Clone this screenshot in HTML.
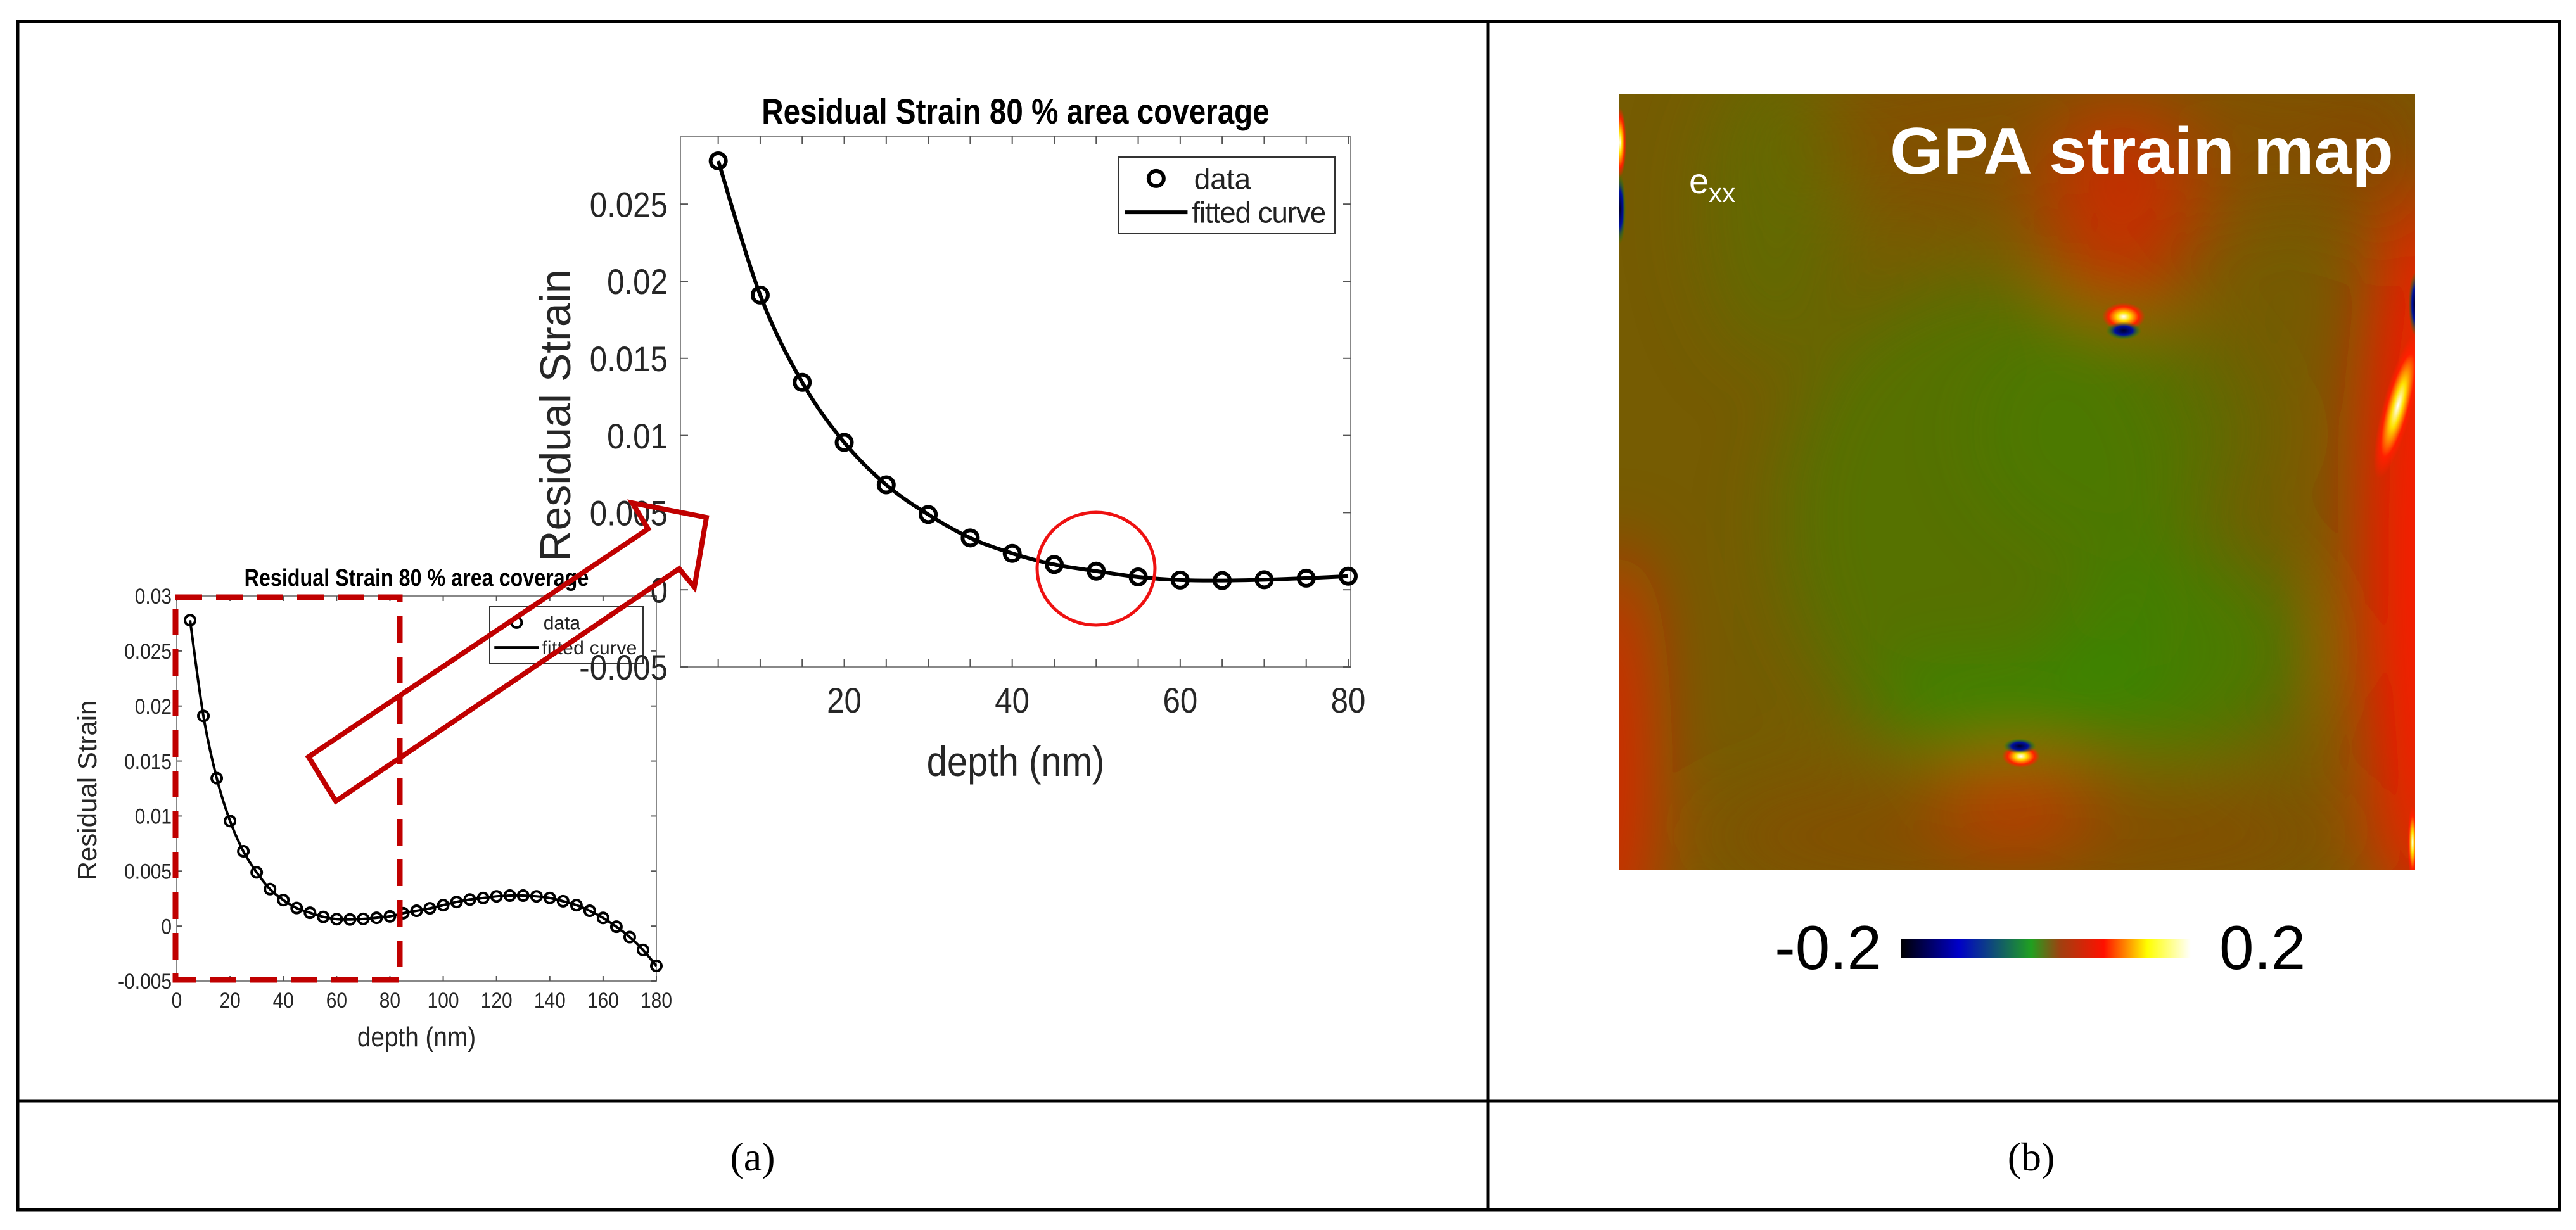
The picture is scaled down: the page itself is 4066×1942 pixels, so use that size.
<!DOCTYPE html>
<html><head><meta charset="utf-8"><style>
html,body{margin:0;padding:0;background:#fff;}
#root{position:relative;width:4066px;height:1942px;overflow:hidden;}
svg text{font-family:"Liberation Sans",sans-serif;}
</style></head><body>
<div id="root">
<svg id="svg" width="4066" height="1942" viewBox="0 0 4066 1942" xmlns="http://www.w3.org/2000/svg">
<defs>
  <filter id="blur" filterUnits="userSpaceOnUse" x="2300" y="-100" width="1800" height="1700"><feGaussianBlur stdDeviation="60"/></filter>
  <radialGradient id="hot" cx="0.5" cy="0.5" r="0.5"><stop offset="0" stop-color="#ffffff"/><stop offset="0.3" stop-color="#ffe000"/><stop offset="0.7" stop-color="#ff2000"/><stop offset="1" stop-color="#ff2000" stop-opacity="0"/></radialGradient>
  <radialGradient id="cold" cx="0.5" cy="0.5" r="0.5"><stop offset="0" stop-color="#000030"/><stop offset="0.5" stop-color="#0010a0"/><stop offset="1" stop-color="#00a000" stop-opacity="0"/></radialGradient>
  <linearGradient id="cbar" x1="0" x2="1"><stop offset="0" stop-color="#000000"/><stop offset="0.2" stop-color="#0000c8"/><stop offset="0.45" stop-color="#20a020"/><stop offset="0.55" stop-color="#a04010"/><stop offset="0.7" stop-color="#ff1000"/><stop offset="0.85" stop-color="#ffff00"/><stop offset="1" stop-color="#ffffff"/></linearGradient>
  <clipPath id="mapclip"><rect x="2556" y="149" width="1256" height="1225"/></clipPath>
</defs>

<g stroke="#000" stroke-width="5" fill="none">
  <rect x="28" y="34" width="4012" height="1876"/>
  <line x1="2349" y1="34" x2="2349" y2="1910"/>
  <line x1="28" y1="1738" x2="4040" y2="1738"/>
</g>
<text x="1188" y="1848" font-size="64" text-anchor="middle" style="font-family:'Liberation Serif',serif">(a)</text>
<text x="3206" y="1848" font-size="64" text-anchor="middle" style="font-family:'Liberation Serif',serif">(b)</text>

<g id="small"></g>
<g id="big"></g>

<rect x="277" y="943" width="354" height="604" fill="none" stroke="#c00000" stroke-width="9" stroke-dasharray="42,22"/>
<polygon points="487,1195 1023,835 998,794 1115,817 1096,927 1072,898 530,1265" fill="none" stroke="#c00000" stroke-width="8" stroke-linejoin="miter"/>
<ellipse cx="1730" cy="898" rx="93" ry="89" fill="none" stroke="#ee1111" stroke-width="5"/>

<g clip-path="url(#mapclip)">
  <rect x="2556" y="149" width="1256" height="1225" fill="#765c02"/>
  <g filter="url(#blur)">
    <ellipse cx="3300" cy="220" rx="500" ry="140" fill="#8a4a00" opacity="0.6"/>
    <ellipse cx="3350" cy="330" rx="120" ry="160" fill="#d02a00" opacity="0.85"/>
    <ellipse cx="3200" cy="1320" rx="520" ry="110" fill="#8a4a00" opacity="0.6"/>
    <ellipse cx="3180" cy="1270" rx="120" ry="70" fill="#d03000" opacity="0.75"/>
    <ellipse cx="3130" cy="820" rx="320" ry="380" fill="#418000" opacity="0.6"/>
    <ellipse cx="3330" cy="680" rx="220" ry="190" fill="#418000" opacity="0.5"/>
    <ellipse cx="3440" cy="1030" rx="190" ry="170" fill="#378800" opacity="0.7"/>
    <ellipse cx="3180" cy="1110" rx="250" ry="65" fill="#2e9000" opacity="0.7"/>
    <ellipse cx="2800" cy="330" rx="110" ry="240" fill="#4a7d00" opacity="0.45"/>
    <ellipse cx="3830" cy="880" rx="100" ry="600" fill="#ff1400" opacity="1"/>
    <ellipse cx="3760" cy="250" rx="80" ry="140" fill="#8a4000" opacity="0.6"/>
    <ellipse cx="2545" cy="1220" rx="55" ry="360" fill="#ff1400" opacity="0.9"/>
  </g>
  <ellipse cx="3352" cy="500" rx="34" ry="22" fill="url(#hot)"/>
  <ellipse cx="3352" cy="522" rx="28" ry="14" fill="url(#cold)"/>
  <ellipse cx="3190" cy="1194" rx="30" ry="18" fill="url(#hot)"/>
  <ellipse cx="3188" cy="1178" rx="26" ry="12" fill="url(#cold)"/>
  <ellipse cx="3785" cy="640" rx="24" ry="120" fill="url(#hot)" transform="rotate(15 3785 640)"/>
  <ellipse cx="3812" cy="480" rx="10" ry="50" fill="url(#cold)"/>
  <ellipse cx="2557" cy="330" rx="9" ry="55" fill="url(#cold)"/>
  <ellipse cx="2557" cy="225" rx="10" ry="55" fill="url(#hot)"/>
  <ellipse cx="3808" cy="1330" rx="8" ry="60" fill="url(#hot)"/>
</g>
<text x="2983" y="274" font-size="104" font-weight="bold" fill="#fff" textLength="795" lengthAdjust="spacingAndGlyphs">GPA strain map</text>
<text x="2666" y="305" font-size="56" fill="#fff">e<tspan font-size="42" dy="14">xx</tspan></text>
<rect x="3000" y="1483" width="458" height="29" fill="url(#cbar)"/>
<text x="2970" y="1530" font-size="98" text-anchor="end">-0.2</text>
<text x="3503" y="1530" font-size="98">0.2</text>
</svg>
</div>
<script>
const bigDepth = [5,10,15,20,25,30,35,40,45,50,55,60,65,70,75,80];
const bigStrain = [0.0278,0.0191,0.01344,0.00955,0.0068,0.00488,0.00336,0.00236,0.00164,0.00121,0.00083,0.00063,0.0006,0.00065,0.00075,0.00088];
const smallDepth = [5,10,15,20,25,30,35,40,45,50,55,60,65,70,75,80,85,90,95,100,105,110,115,120,125,130,135,140,145,150,155,160,165,170,175,180];
const smallStrain = [0.0278,0.0191,0.01344,0.00955,0.0068,0.00488,0.00336,0.00236,0.00164,0.00121,0.00083,0.00063,0.0006,0.00065,0.00075,0.00088,0.00117,0.00139,0.00161,0.0019,0.00219,0.00241,0.00255,0.0027,0.00277,0.00277,0.0027,0.00255,0.00226,0.0019,0.00139,0.00074,-0.00006,-0.001,-0.00217,-0.00362];
const bigYTicks = [-0.005,0,0.005,0.01,0.015,0.02,0.025];
const bigYTickLabels = ["-0.005","0","0.005","0.01","0.015","0.02","0.025"];
const bigXTicks = [20,40,60,80];
const smallYTicks = [-0.005,0,0.005,0.01,0.015,0.02,0.025,0.03];
const smallYTickLabels = ["-0.005","0","0.005","0.01","0.015","0.02","0.025","0.03"];
const smallXTicks = [0,20,40,60,80,100,120,140,160,180];

const NS = "http://www.w3.org/2000/svg";
function mk(parent, tag, attrs, txt){
  const e = document.createElementNS(NS, tag);
  for (const k in attrs) e.setAttribute(k, attrs[k]);
  if (txt !== undefined) e.textContent = txt;
  parent.appendChild(e); return e;
}
function smoothPath(pts){
  let d = "M" + pts[0][0] + "," + pts[0][1];
  for (let i=0;i<pts.length-1;i++){
    const p0=pts[Math.max(i-1,0)], p1=pts[i], p2=pts[i+1], p3=pts[Math.min(i+2,pts.length-1)];
    const c1=[p1[0]+(p2[0]-p0[0])/6, p1[1]+(p2[1]-p0[1])/6];
    const c2=[p2[0]-(p3[0]-p1[0])/6, p2[1]-(p3[1]-p1[1])/6];
    d += " C"+c1[0]+","+c1[1]+" "+c2[0]+","+c2[1]+" "+p2[0]+","+p2[1];
  }
  return d;
}
function drawChart(g, o){
  const sx = v => o.L + (v - o.xmin)/(o.xmax - o.xmin)*(o.R - o.L);
  const sy = v => o.B - (v - o.ymin)/(o.ymax - o.ymin)*(o.B - o.T);
  let el;
  el = mk(g,"rect",{x:o.L,y:o.T,width:o.R-o.L,height:o.B-o.T,fill:"#fff",stroke:"#888","stroke-width":o.axw});
  
  
  o.yticks.forEach((t,i)=>{
    const y = sy(t);
    mk(g,"line",{x1:o.L,x2:o.L+o.tl,y1:y,y2:y,stroke:"#555","stroke-width":2});
    mk(g,"line",{x1:o.R,x2:o.R-o.tl,y1:y,y2:y,stroke:"#555","stroke-width":2});
    el = mk(g,"text",{x:o.L-o.lpad,y:y+o.tfs*0.36,"font-size":o.tfs,"text-anchor":"end",fill:"#262626",transform:"translate("+(o.L-o.lpad)+",0) scale(0.88,1) translate("+(-(o.L-o.lpad))+",0)"},o.ylabels[i]);
    
    
  });
  for (let v=o.minorStart; v<=o.xmax; v+=o.minorStep){
    const x = sx(v);
    mk(g,"line",{x1:x,x2:x,y1:o.B,y2:o.B-o.tl,stroke:"#555","stroke-width":2});
    mk(g,"line",{x1:x,x2:x,y1:o.T,y2:o.T+o.tl,stroke:"#555","stroke-width":2});
  }
  o.xticks.forEach(t=>{
    const x = sx(t);
    el = mk(g,"text",{x:x,y:o.B+o.xlpad,"font-size":o.tfs,"text-anchor":"middle",fill:"#262626",transform:"translate("+x+",0) scale(0.88,1) translate("+(-x)+",0)"},String(t));
    
    
  });
  const pts = o.xs.map((v,i)=>[sx(v), sy(o.ys[i])]);
  el = mk(g,"path",{d:smoothPath(pts),fill:"none",stroke:"#000","stroke-width":o.lw});
  
  
  pts.forEach(p=>{
    el = mk(g,"circle",{cx:p[0],cy:p[1],r:o.mr,fill:"none",stroke:"#000","stroke-width":o.mw});
    
    
  });
  el = mk(g,"text",{x:(o.L+o.R)/2,y:o.T-o.titlePad,"font-size":o.titleFs,"font-weight":"bold","text-anchor":"middle",transform:"translate("+((o.L+o.R)/2)+",0) scale(0.85,1) translate("+(-(o.L+o.R)/2)+",0)"},"Residual Strain 80 % area coverage");
  
  
  el = mk(g,"text",{x:(o.L+o.R)/2,y:o.xtitleY,"font-size":o.axFs,"text-anchor":"middle",fill:"#262626",transform:"translate("+((o.L+o.R)/2)+",0) scale(0.88,1) translate("+(-(o.L+o.R)/2)+",0)"},"depth (nm)");
  
  
  el = mk(g,"text",{x:0,y:0,"font-size":o.ayFs,"text-anchor":"middle",fill:"#262626",transform:"translate("+o.ytitleX+","+o.ytitleY+") rotate(-90)"},"Residual Strain");
  
  
  const lg = mk(g,"g",{});
  
  
  const Lx=o.leg[0], Ly=o.leg[1], Lw=o.leg[2], Lh=o.leg[3];
  mk(lg,"rect",{x:Lx,y:Ly,width:Lw,height:Lh,fill:"#fff",stroke:"#333","stroke-width":2});
  mk(lg,"circle",{cx:Lx+Lw*0.175,cy:Ly+Lh*0.28,r:o.mr,fill:"none",stroke:"#000","stroke-width":o.mw});
  mk(lg,"line",{x1:Lx+Lw*0.03,x2:Lx+Lw*0.32,y1:Ly+Lh*0.72,y2:Ly+Lh*0.72,stroke:"#000","stroke-width":o.lw});
  el = mk(lg,"text",{x:Lx+Lw*0.35,y:Ly+Lh*0.28+o.lfs*0.36,"font-size":o.lfs,fill:"#222"},"data");
  
  
  el = mk(lg,"text",{x:Lx+Lw*0.34,y:Ly+Lh*0.72+o.lfs*0.36,"font-size":o.lfs,fill:"#222",textLength:Lw*0.62},"fitted curve");
  
  
}
drawChart(document.getElementById('small'), {
  prefix:"small", L:279,R:1036,T:941,B:1549,xmin:0,xmax:180,ymin:-0.005,ymax:0.03,
  xs:smallDepth, ys:smallStrain, yticks:smallYTicks, ylabels:smallYTickLabels, xticks:smallXTicks,
  minorStart:0, minorStep:20, tl:8, axw:2, tfs:34, lpad:8, xlpad:42, lw:4, mr:8, mw:4,
  titleFs:38, titlePad:16, axFs:44, xtitleY:1652, ayFs:42, ytitleX:152, ytitleY:1248,
  leg:[773,958,242,89], lfs:30
});
drawChart(document.getElementById('big'), {
  prefix:"big", L:1074,R:2132,T:215,B:1053,xmin:0.5,xmax:80.3,ymin:-0.005,ymax:0.0294,
  xs:bigDepth, ys:bigStrain, yticks:bigYTicks, ylabels:bigYTickLabels, xticks:bigXTicks,
  minorStart:5, minorStep:5, tl:12, axw:2, tfs:56, lpad:20, xlpad:72, lw:6, mr:12, mw:6,
  titleFs:56, titlePad:20, axFs:66, xtitleY:1225, ayFs:68, ytitleX:900, ytitleY:656,
  leg:[1765,248,342,121], lfs:46
});
</script>
</body></html>
